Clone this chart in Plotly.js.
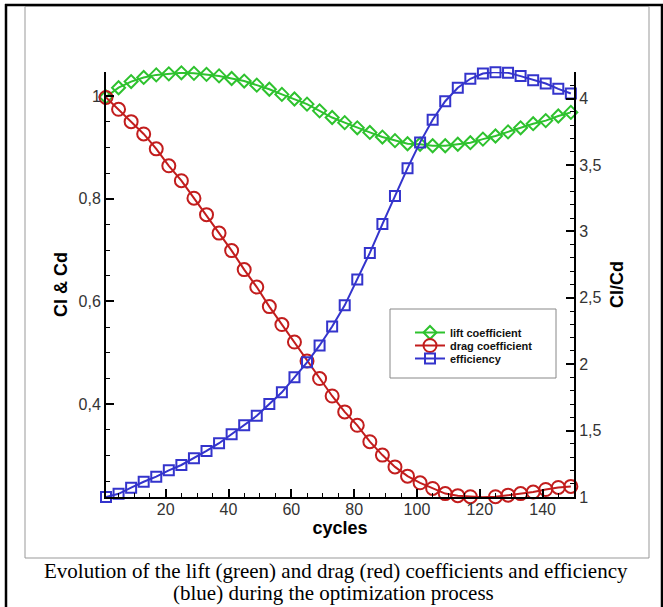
<!DOCTYPE html>
<html><head><meta charset="utf-8">
<script src="https://cdn.plot.ly/plotly-3.0.1.min.js"></script>
<style>html,body{margin:0;padding:0;background:#fff}#chart{width:663px;height:607px}</style>
</head><body><div id="chart"></div>
<script>
const cycles = [1,5,9,13,17,21,25,29,33,37,41,45,49,53,57,61,65,69,73,77,81,85,89,93,97,101,105,109,113,117,121,125,129,133,137,141,145,149];
const liftCoefficient = [0.998,1.016,1.028,1.036,1.041,1.043,1.045,1.044,1.042,1.039,1.034,1.029,1.021,1.013,1.003,0.994,0.984,0.971,0.958,0.948,0.938,0.929,0.920,0.913,0.907,0.906,0.903,0.903,0.906,0.909,0.916,0.922,0.930,0.938,0.946,0.952,0.961,0.968];
const dragCoefficient = [0.997,0.974,0.950,0.926,0.897,0.864,0.835,0.801,0.769,0.733,0.699,0.662,0.628,0.590,0.555,0.521,0.484,0.450,0.416,0.385,0.359,0.327,0.301,0.278,0.260,0.247,0.236,0.226,0.222,0.220,0.219,0.220,0.223,0.226,0.229,0.234,0.238,0.240];
const efficiency = [1.000,1.024,1.070,1.115,1.153,1.201,1.241,1.292,1.347,1.405,1.473,1.541,1.611,1.700,1.788,1.901,2.014,2.141,2.284,2.443,2.637,2.838,3.055,3.267,3.476,3.670,3.841,3.980,4.081,4.149,4.189,4.199,4.194,4.169,4.138,4.113,4.073,4.038];
const seriesNames = ['lift coefficient','drag coefficient','efficiency'];
const captionLines = ['Evolution of the lift (green) and drag (red) coefficients and efficiency','(blue) during the optimization process'];

const L=106, R=574, T=72, B=497;
function px(x){return (x-L)/(R-L);}
function py(y){return (B-y)/(B-T);}

const GREEN='#2ec22e', RED='#c21d1d', BLUE='#3434cc';
const traces = [
  {x:cycles, y:liftCoefficient, name:seriesNames[0], legend:'legend', mode:'lines+markers', cliponaxis:false,
   line:{color:GREEN,width:2}, marker:{symbol:'diamond-open',size:10,color:GREEN,line:{width:2,color:GREEN}}},
  {x:cycles, y:dragCoefficient, name:seriesNames[1], legend:'legend2', mode:'lines+markers', cliponaxis:false,
   line:{color:RED,width:2}, marker:{symbol:'circle-open',size:13,color:RED,line:{width:2,color:RED}}},
  {x:cycles, y:efficiency, name:seriesNames[2], legend:'legend3', yaxis:'y2', mode:'lines+markers', cliponaxis:false,
   line:{color:BLUE,width:2}, marker:{symbol:'square-open',size:10,color:BLUE,line:{width:2,color:BLUE}}}
];

const tickFont = {family:'Arial, Liberation Sans, sans-serif', size:16, color:'#333'};
const titleFont = {family:'Arial, Liberation Sans, sans-serif', size:18, color:'#000', weight:'bold'};
const axisCommon = {showline:true, linecolor:'#000', linewidth:2, showgrid:false, zeroline:false,
  ticks:'inside', ticklen:8, tickwidth:2, tickcolor:'#000', tickfont:tickFont};

function line(x0,y0,x1,y1,color,width){
  return {type:'line', xref:'paper', yref:'paper', x0:px(x0), y0:py(y0), x1:px(x1), y1:py(y1), line:{color:color,width:width}, layer:'below'};
}
const legendFont = {family:'Arial, Liberation Sans, sans-serif', size:11, weight:'bold', color:'#111'};
function legendAt(x, yTop){
  return {x:px(x), y:py(yTop), xanchor:'left', yanchor:'top', bgcolor:'rgba(0,0,0,0)', borderwidth:0, font:legendFont, tracegroupgap:0};
}

const layout = {
  width:663, height:607,
  margin:{l:L, r:663-R, t:T, b:607-B},
  paper_bgcolor:'#fff', plot_bgcolor:'rgba(0,0,0,0)',
  separators:', ',
  xaxis: Object.assign({}, axisCommon, {range:[1,150], tick0:0, dtick:20, ticklabelstandoff:-3,
    minor:{ticks:'inside', ticklen:4, tickwidth:1, tickcolor:'#000', tick0:0, dtick:5},
    title:{text:'cycles', font:titleFont, standoff:0}}),
  yaxis: Object.assign({}, axisCommon, {range:[0.2194,1.0466], tick0:0, dtick:0.2,
    minor:{ticks:'inside', ticklen:4, tickwidth:1, tickcolor:'#000', tick0:0, dtick:0.05},
    title:{text:'Cl &amp; Cd', font:titleFont, standoff:6}}),
  yaxis2: Object.assign({}, axisCommon, {overlaying:'y', side:'right', anchor:'x', range:[1,4.2], tick0:0, dtick:0.5,
    minor:{ticks:'inside', ticklen:4, tickwidth:1, tickcolor:'#000', tick0:0, dtick:0.1},
    title:{text:'Cl/Cd', font:titleFont, standoff:10}}),
  showlegend:true,
  legend: legendAt(410, 318),
  legend2: legendAt(410, 331),
  legend3: legendAt(410, 344),
  shapes:[
    line(6,4,6,607,'#000',2.5),
    line(5,5,663,5,'#000',2.5),
    line(662,5,662,607,'#000',2.5),
    {type:'rect', xref:'paper', yref:'paper', x0:px(25), y0:py(6.5), x1:px(649), y1:py(558), line:{color:'#999',width:1}, layer:'below'},
    {type:'rect', xref:'paper', yref:'paper', x0:px(390), y0:py(309), x1:px(556), y1:py(378), line:{color:'#888',width:1}, fillcolor:'#fff', layer:'below'}
  ],
  annotations:[
    {xref:'paper', yref:'paper', x:px(336), y:py(571), text:captionLines[0], showarrow:false, xanchor:'center', yanchor:'middle',
     font:{family:'Liberation Serif, Times New Roman, serif', size:21, color:'#000'}},
    {xref:'paper', yref:'paper', x:px(333), y:py(593), text:captionLines[1], showarrow:false, xanchor:'center', yanchor:'middle',
     font:{family:'Liberation Serif, Times New Roman, serif', size:21, color:'#000'}}
  ]
};

Plotly.newPlot('chart', traces, layout, {displayModeBar:false, staticPlot:true});
</script></body></html>
